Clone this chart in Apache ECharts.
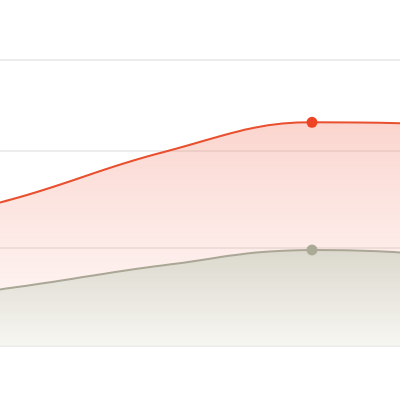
<!DOCTYPE html>
<html>
<head>
<meta charset="utf-8">
<script src="https://cdn.jsdelivr.net/npm/echarts@6/dist/echarts.min.js"></script>
<style>
  html, body { margin: 0; padding: 0; background: #fff; }
  #chart { width: 400px; height: 400px; }
</style>
</head>
<body>
<div id="chart"></div>
<script>
// only a slice of a wider chart is in view: x runs over point indices
const categories = ["A", "B", "C", "D", "E", "F"];
const upperValues = [114, 150, 198, 229, 226, 211];
const lowerValues = [40, 59, 82, 98, 91, 77];
const markedIndex = 3;
const yTicks = [0, 100, 200];
const yMax = 293;
const xView = [0.92, 3.5867];

function toPoints(values, color) {
  return values.map((v, i) =>
    i === markedIndex
      ? { value: [i, v], symbol: "circle", symbolSize: 11, itemStyle: { color: color } }
      : [i, v]
  );
}

const chart = echarts.init(document.getElementById("chart"), null, { renderer: "canvas" });

chart.setOption({
  animation: false,
  grid: { left: 0, right: 0, top: 60, bottom: 54.7 },
  xAxis: {
    type: "value",
    min: xView[0],
    max: xView[1],
    show: false
  },
  yAxis: {
    type: "value",
    min: yTicks[0],
    max: yMax,
    interval: yTicks[1] - yTicks[0],
    axisLine: { show: false },
    axisTick: { show: false },
    axisLabel: { show: false },
    splitLine: { lineStyle: { color: "#e6e6e6", width: 1.5 } }
  },
  series: [
    {
      type: "line",
      name: categories.join(""),
      data: toPoints(upperValues, "#ee4424"),
      smooth: 0.4,
      symbol: "none",
      lineStyle: { color: "#e8502f", width: 2 },
      areaStyle: {
        color: new echarts.graphic.LinearGradient(0, 0, 0, 1, [
          { offset: 0, color: "rgba(240,105,80,0.4)" },
          { offset: 1, color: "rgba(248,170,155,0.12)" }
        ])
      },
      z: 2
    },
    {
      type: "line",
      data: toPoints(lowerValues, "#aaaa96"),
      smooth: 0.4,
      symbol: "none",
      lineStyle: { color: "#aba797", width: 2 },
      areaStyle: {
        opacity: 1,
        color: new echarts.graphic.LinearGradient(0, 0, 0, 1, [
          { offset: 0, color: "rgba(214,213,201,0.85)" },
          { offset: 1, color: "rgba(246,246,241,0.9)" }
        ])
      },
      z: 3
    }
  ]
});
</script>
</body>
</html>
